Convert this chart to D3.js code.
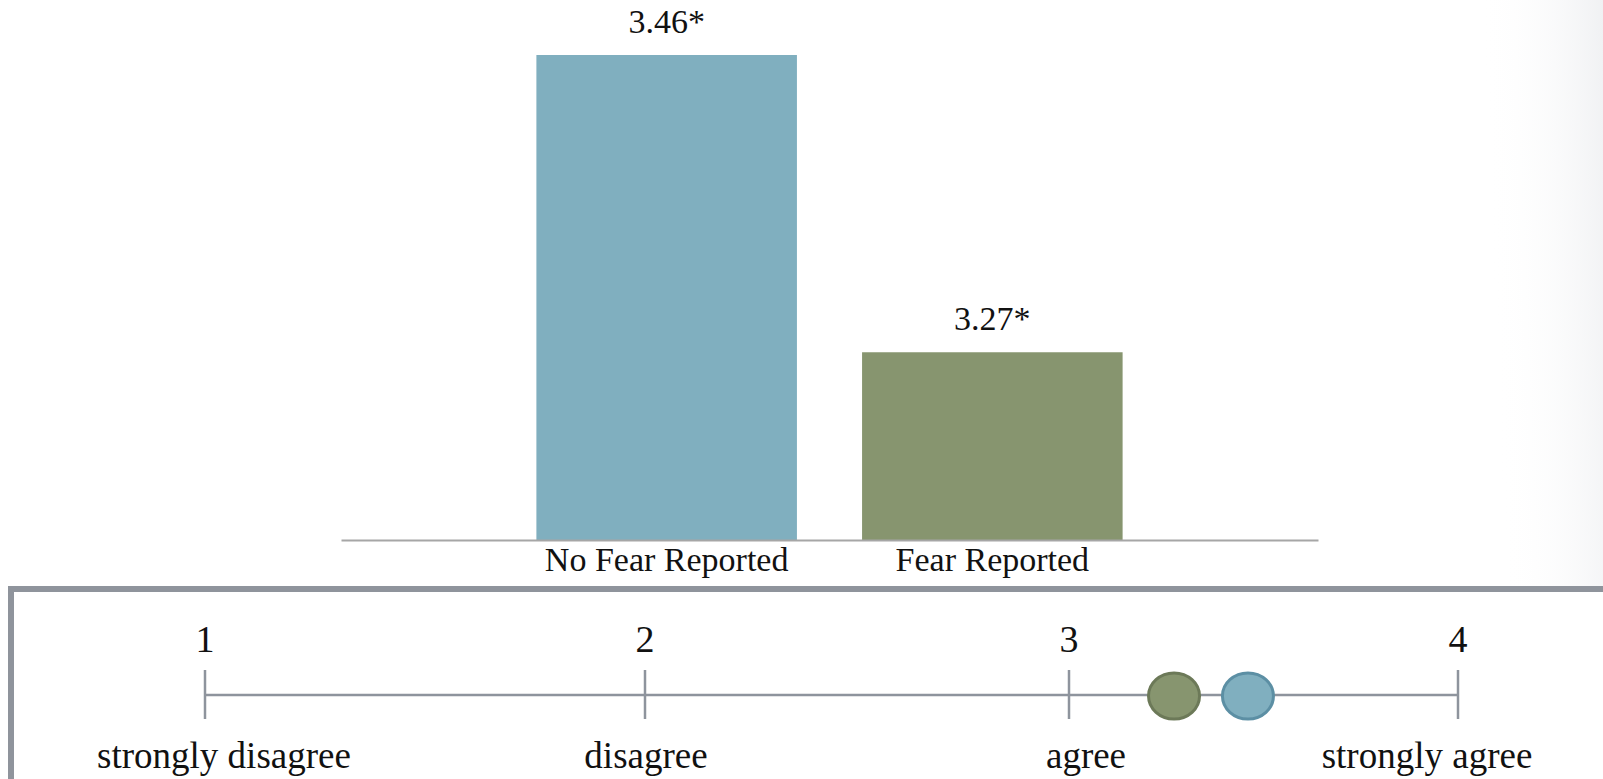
<!DOCTYPE html>
<html>
<head>
<meta charset="utf-8">
<script src="https://cdn.jsdelivr.net/npm/d3@7"></script>
<style>
  html, body { margin: 0; padding: 0; background: #ffffff; }
  svg { display: block; }
  text { font-family: "Liberation Serif", "Times New Roman", serif; fill: #111111; }
</style>
</head>
<body>
<svg id="chart" width="1603" height="779"></svg>
<script>
// Mean agreement by group
const groups = ["No Fear Reported", "Fear Reported"];
const means = [3.46, 3.27];
const meanLabels = ["3.46*", "3.27*"];
const groupColors = ["#80AFBF", "#87956F"];
const groupStrokes = ["#5C8FA4", "#6C7958"];

// Response scale
const scalePoints = [1, 2, 3, 4];
const scaleNames = ["strongly disagree", "disagree", "agree", "strongly agree"];

const W = 1603, H = 779;
const svg = d3.select("#chart");

// soft shade along the right edge
const defs = svg.append("defs");
const shade = defs.append("linearGradient")
  .attr("id", "edgeShade")
  .attr("x1", "0").attr("y1", "0.2").attr("x2", "1").attr("y2", "0");
shade.append("stop").attr("offset", "0").attr("stop-color", "#ffffff").attr("stop-opacity", 0);
shade.append("stop").attr("offset", "1").attr("stop-color", "#f0f1f3").attr("stop-opacity", 1);
svg.append("rect")
  .attr("x", 1485).attr("y", 0).attr("width", W - 1485).attr("height", 590)
  .attr("fill", "url(#edgeShade)");

// ---- bar chart ----
const axisY = 540;
const x = d3.scaleBand()
  .domain(groups)
  .range([341, 1318])
  .paddingInner(0.2)
  .paddingOuter(0.6);

const y = d3.scaleLinear()
  .domain([3.15, 3.46])
  .range([axisY, 55]);

const bars = svg.append("g");
bars.selectAll("rect")
  .data(groups)
  .join("rect")
  .attr("x", d => x(d))
  .attr("width", x.bandwidth())
  .attr("y", (d, i) => y(means[i]))
  .attr("height", (d, i) => axisY - y(means[i]))
  .attr("fill", (d, i) => groupColors[i]);

bars.selectAll("text.val")
  .data(groups)
  .join("text")
  .attr("class", "val")
  .attr("x", d => x(d) + x.bandwidth() / 2)
  .attr("y", (d, i) => y(means[i]) - 22)
  .attr("text-anchor", "middle")
  .attr("font-size", 34)
  .text((d, i) => meanLabels[i]);

// category axis
const xAxis = svg.append("g")
  .attr("transform", `translate(0,${axisY})`)
  .call(d3.axisBottom(x).tickSize(0).tickPadding(7));
xAxis.select(".domain")
  .attr("stroke", "#a6a6a6")
  .attr("stroke-width", 2);
xAxis.selectAll(".tick text")
  .attr("font-family", "Liberation Serif, serif")
  .attr("font-size", 34)
  .attr("fill", "#111111")
  .attr("dy", "0.71em");

// ---- response scale panel ----
svg.append("rect")
  .attr("x", 11).attr("y", 589)
  .attr("width", W + 20).attr("height", 300)
  .attr("fill", "#ffffff")
  .attr("stroke", "#8f949c")
  .attr("stroke-width", 6);

const lineY = 695;
const s = d3.scaleLinear()
  .domain(scalePoints)
  .range([205, 645, 1069, 1458]);

const lineColor = "#8e949d";
const scaleG = svg.append("g");
scaleG.append("line")
  .attr("x1", s(1)).attr("x2", s(4))
  .attr("y1", lineY).attr("y2", lineY)
  .attr("stroke", lineColor)
  .attr("stroke-width", 2.5);

scaleG.selectAll("line.tick")
  .data(scalePoints)
  .join("line")
  .attr("class", "tick")
  .attr("x1", d => s(d)).attr("x2", d => s(d))
  .attr("y1", lineY - 25).attr("y2", lineY + 24)
  .attr("stroke", lineColor)
  .attr("stroke-width", 2.5);

scaleG.selectAll("text.num")
  .data(scalePoints)
  .join("text")
  .attr("class", "num")
  .attr("x", d => s(d))
  .attr("y", 652)
  .attr("text-anchor", "middle")
  .attr("font-size", 38)
  .text(d => d);

// small horizontal nudges so the word labels sit as typeset
const nameNudge = [19, 1, 17, -31];
scaleG.selectAll("text.name")
  .data(scalePoints)
  .join("text")
  .attr("class", "name")
  .attr("x", (d, i) => s(d) + nameNudge[i])
  .attr("y", 768)
  .attr("text-anchor", "middle")
  .attr("font-size", 37)
  .text((d, i) => scaleNames[i]);

// group means placed on the scale (lower mean drawn first)
const order = d3.range(means.length).sort((a, b) => means[a] - means[b]);
scaleG.selectAll("ellipse")
  .data(order)
  .join("ellipse")
  .attr("cx", i => s(means[i]))
  .attr("cy", lineY + 1)
  .attr("rx", 25.5)
  .attr("ry", 23)
  .attr("fill", i => groupColors[i])
  .attr("stroke", i => groupStrokes[i])
  .attr("stroke-width", 3);
</script>
</body>
</html>
